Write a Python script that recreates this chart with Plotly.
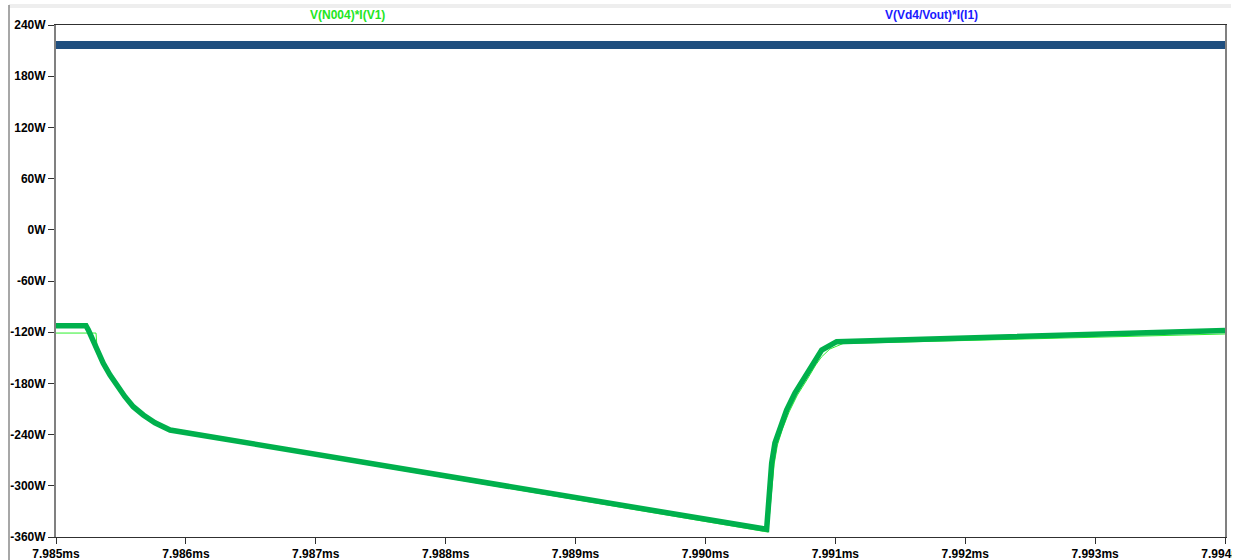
import plotly.graph_objects as go

# Time axis (ms) and power (W) samples for each trace
t_vd4 = [7.985, 7.994]
p_vd4 = [216.6, 216.6]

t_n004_fine = [7.985, 7.985308, 7.985316, 7.985380, 7.985431, 7.985483, 7.985547,
               7.985610, 7.985687, 7.985778, 7.985893, 7.990481, 7.990500,
               7.990516, 7.990529, 7.990554, 7.990593, 7.990644, 7.990708,
               7.990785, 7.990849, 7.990893, 7.990958, 7.991059, 7.994]
p_n004_fine = [-121.0, -121.0, -137.4, -157.9, -171.3, -183.1, -196.5,
               -208.3, -217.6, -227.0, -236.4, -354.2, -322.5,
               -294.4, -274.5, -252.2, -233.4, -213.5, -193.6,
               -174.9, -158.4, -149.1, -139.7, -133.3, -122.1]

t_n004 = [7.985, 7.985231, 7.985249, 7.985275, 7.985313, 7.985364, 7.985416,
          7.985467, 7.985531, 7.985595, 7.985672, 7.985762, 7.985878,
          7.990471, 7.990483, 7.990497, 7.990510, 7.990535, 7.990574,
          7.990625, 7.990689, 7.990766, 7.990830, 7.990874, 7.990895,
          7.991010, 7.994]
p_n004 = [-112.4, -112.4, -117.4, -127.2, -140.9, -156.5, -170.2,
          -181.9, -195.6, -207.3, -217.0, -226.1, -234.6,
          -351.0, -320.2, -293.2, -273.3, -249.9, -231.1,
          -211.2, -191.3, -172.5, -156.1, -146.7, -140.9,
          -131.1, -118.0]

x_ticks = [7.985, 7.986, 7.987, 7.988, 7.989, 7.990, 7.991, 7.992, 7.993, 7.994]
x_tick_text = ["7.985ms", "7.986ms", "7.987ms", "7.988ms", "7.989ms", "7.990ms",
               "7.991ms", "7.992ms", "7.993ms", "7.994ms"]
y_ticks = [240, 180, 120, 60, 0, -60, -120, -180, -240, -300, -360]
y_tick_text = ["240W", "180W", "120W", "60W", "0W", "-60W", "-120W", "-180W",
               "-240W", "-300W", "-360W"]

W, H = 1232, 560
ML, MR, MT, MB = 56, 7, 25, 23
PW, PH = W - ML - MR, H - MT - MB


def px_x(px):
    return (px - ML) / PW


def px_y(py):
    return (H - MB - py) / PH


fig = go.Figure()
fig.add_trace(go.Scatter(x=t_vd4, y=p_vd4, mode="lines",
                         line=dict(color="#0000ff", width=1), hoverinfo="skip"))
fig.add_trace(go.Scatter(x=t_vd4, y=p_vd4, mode="lines",
                         line=dict(color="#1f4e7e", width=8)))
fig.add_trace(go.Scatter(x=t_n004_fine, y=p_n004_fine, mode="lines",
                         line=dict(color="#2cf02c", width=1)))
fig.add_trace(go.Scatter(x=t_n004, y=p_n004, mode="lines",
                         line=dict(color="#00b04c", width=5.5)))

font = dict(family="Liberation Sans, Arial, sans-serif", size=12, color="#000000")
tickfont = dict(family="Liberation Sans, Arial, sans-serif", size=12,
                color="#000000", weight="bold")

fig.update_layout(
    width=W, height=H,
    margin=dict(l=ML, r=MR, t=MT, b=MB, pad=0, autoexpand=False),
    paper_bgcolor="white", plot_bgcolor="white",
    showlegend=False,
    font=font,
    xaxis=dict(range=[7.985, 7.994], tickvals=x_ticks, ticktext=x_tick_text,
               showgrid=False, zeroline=False, showline=True, mirror=True,
               linecolor="#303030", linewidth=1, ticks="outside", ticklen=6,
               tickcolor="#303030", tickfont=tickfont, automargin=False,
               ticklabeloverflow="allow", fixedrange=True),
    yaxis=dict(range=[-360, 240], tickvals=y_ticks, ticktext=y_tick_text,
               showgrid=False, zeroline=False, showline=True, mirror=True,
               linecolor="#808080", linewidth=2, ticks="outside", ticklen=6,
               tickcolor="#303030", tickfont=tickfont, automargin=False,
               ticklabeloverflow="allow", fixedrange=True),
    shapes=[
        # window chrome: light band at the top and a rule on the left
        dict(type="rect", xref="paper", yref="paper",
             x0=px_x(9), x1=px_x(1231), y0=px_y(8), y1=px_y(4),
             fillcolor="#eeeeee", line=dict(width=0), layer="below"),
        dict(type="line", xref="paper", yref="paper",
             x0=px_x(9), x1=px_x(9), y0=px_y(560), y1=px_y(5),
             line=dict(color="#8a8a8a", width=1.5)),
    ],
    annotations=[
        dict(text="<b>V(N004)*I(V1)</b>", xref="paper", yref="paper",
             x=px_x(347), y=px_y(15), showarrow=False, xanchor="center",
             yanchor="middle", font=dict(color="#22e622", size=12)),
        dict(text="<b>V(Vd4/Vout)*I(I1)</b>", xref="paper", yref="paper",
             x=px_x(931), y=px_y(15), showarrow=False, xanchor="center",
             yanchor="middle", font=dict(color="#1a1aff", size=12)),
    ],
)

fig.write_html("out.html")
